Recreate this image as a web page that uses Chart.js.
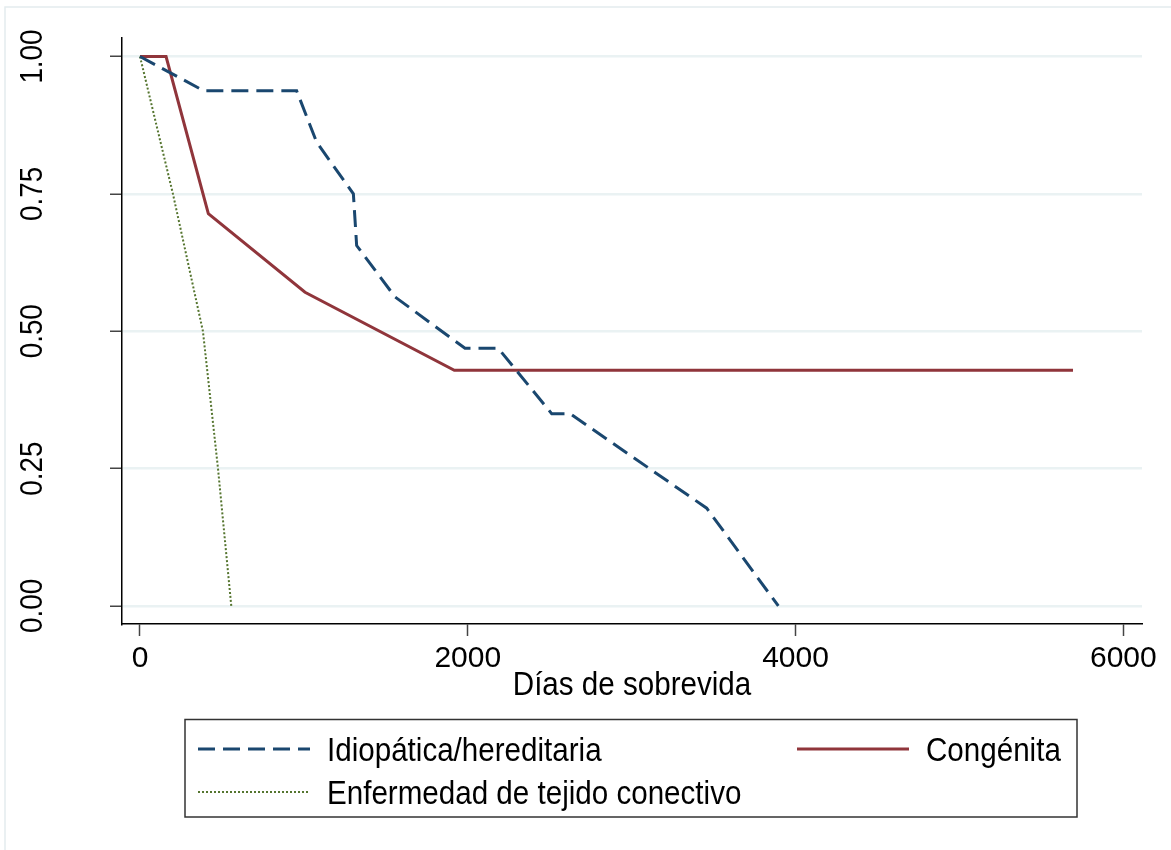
<!DOCTYPE html>
<html>
<head>
    <title>Supervivencia</title>
    <style>
        body {
            margin: 0;
            padding: 0;
            background-color: #ffffff;
        }
        #chart {
            display: block;
        }
    </style>
</head>
<body>
<canvas id="chart" width="1171" height="850"></canvas>
<script src="https://cdn.jsdelivr.net/npm/chart.js"></script>
<script>
    // Idiopática/hereditaria
    const idioDays = [0, 390, 956, 1078, 1302, 1322, 1556, 1983, 2186, 2512, 2624, 3458, 3895];
    const idioSurv = [1, 0.9375, 0.9375, 0.844, 0.75, 0.656, 0.5625, 0.469, 0.469, 0.35, 0.35, 0.178, 0];

    // Congénita
    const congDays = [0, 159, 417, 1007, 1918, 5693];
    const congSurv = [1, 1, 0.714, 0.571, 0.429, 0.429];

    // Enfermedad de tejido conectivo
    const tejDays = [0, 201, 384, 476, 557];
    const tejSurv = [1, 0.75, 0.5, 0.25, 0];

    const seriesNames = ['Idiopática/hereditaria', 'Congénita', 'Enfermedad de tejido conectivo'];
    const xTicks = [0, 2000, 4000, 6000];
    const yTicks = [0, 0.25, 0.5, 0.75, 1];
    const yTickLabels = ['0.00', '0.25', '0.50', '0.75', '1.00'];
    const xTitle = 'Días de sobrevida';

    const FONT = '"Liberation Sans", Arial, Helvetica, sans-serif';

    function toPoints(xs, ys) {
        return xs.map((x, i) => ({ x: x, y: ys[i] }));
    }

    // Stata-like text is a bit narrow, so squeeze it sideways
    function squeezedText(ctx, text, x, y, size, align, squeeze, angle) {
        ctx.save();
        ctx.translate(x, y);
        if (angle) ctx.rotate(angle);
        ctx.scale(squeeze, 1);
        ctx.font = size + 'px ' + FONT;
        ctx.fillStyle = '#000000';
        ctx.textAlign = align;
        ctx.textBaseline = 'alphabetic';
        ctx.fillText(text, 0, 0);
        ctx.restore();
    }

    const extras = {
        id: 'extras',
        beforeDraw(chart) {
            const ctx = chart.ctx;
            ctx.save();
            ctx.fillStyle = '#ffffff';
            ctx.fillRect(0, 0, chart.width, chart.height);
            // faint outer frame
            ctx.strokeStyle = '#e4ecee';
            ctx.lineWidth = 1.5;
            ctx.beginPath();
            ctx.moveTo(5, chart.height);
            ctx.lineTo(5, 7);
            ctx.lineTo(chart.width, 7);
            ctx.stroke();
            ctx.restore();
        },
        afterDraw(chart) {
            const ctx = chart.ctx;
            const yScale = chart.scales.y;
            const area = chart.chartArea;

            // y tick labels, rotated
            yScale.ticks.forEach((t, i) => {
                const py = yScale.getPixelForValue(t.value);
                squeezedText(ctx, yTickLabels[i], 42, py, 32, 'center', 0.87, -Math.PI / 2);
            });

            // x axis title
            squeezedText(ctx, xTitle, (area.left + area.right) / 2, 695, 34, 'center', 0.87, 0);

            // legend box
            const box = { left: 185, top: 719.5, right: 1077, bottom: 817 };
            ctx.save();
            ctx.strokeStyle = '#333333';
            ctx.lineWidth = 1.5;
            ctx.strokeRect(box.left, box.top, box.right - box.left, box.bottom - box.top);
            ctx.restore();

            const slots = [
                { x: 198, y: 749 },
                { x: 797, y: 749 },
                { x: 198, y: 792 }
            ];
            chart.data.datasets.forEach((ds, i) => {
                const s = slots[i];
                ctx.save();
                ctx.strokeStyle = ds.borderColor;
                ctx.lineWidth = ds.borderWidth;
                ctx.setLineDash(ds.borderDash || []);
                ctx.beginPath();
                ctx.moveTo(s.x, s.y);
                ctx.lineTo(s.x + 112, s.y);
                ctx.stroke();
                ctx.restore();
                squeezedText(ctx, ds.label, s.x + 129, s.y + 12, 34, 'left', 0.87, 0);
            });
        }
    };

    const ctx = document.getElementById('chart').getContext('2d');

    const chart = new Chart(ctx, {
        type: 'line',
        data: {
            datasets: [{
                label: seriesNames[0],
                data: toPoints(idioDays, idioSurv),
                borderColor: '#1a476f',
                borderWidth: 3,
                borderDash: [17, 8],
                pointRadius: 0,
                tension: 0,
                fill: false
            }, {
                label: seriesNames[1],
                data: toPoints(congDays, congSurv),
                borderColor: '#90353b',
                borderWidth: 3,
                pointRadius: 0,
                tension: 0,
                fill: false
            }, {
                label: seriesNames[2],
                data: toPoints(tejDays, tejSurv),
                borderColor: '#55752f',
                borderWidth: 2,
                borderDash: [2, 2],
                pointRadius: 0,
                tension: 0,
                fill: false
            }]
        },
        options: {
            responsive: false,
            animation: false,
            events: [],
            layout: {
                padding: { left: 0, top: 38, right: 29, bottom: 166 }
            },
            scales: {
                x: {
                    type: 'linear',
                    min: -109.8,
                    max: 6113.9,
                    afterBuildTicks: (scale) => {
                        scale.ticks = xTicks.map(v => ({ value: v }));
                    },
                    afterFit: (scale) => {
                        scale.height = 60;
                    },
                    ticks: {
                        autoSkip: false,
                        maxRotation: 0,
                        padding: 5,
                        color: '#000000',
                        font: { family: FONT, size: 30 },
                        callback: (v) => String(v)
                    },
                    grid: {
                        drawOnChartArea: false,
                        drawTicks: true,
                        tickLength: 12,
                        tickColor: '#444444',
                        tickWidth: 1.5
                    },
                    border: {
                        display: true,
                        color: '#000000',
                        width: 1.5
                    }
                },
                y: {
                    type: 'linear',
                    min: -0.0328,
                    max: 1.0337,
                    afterBuildTicks: (scale) => {
                        scale.ticks = yTicks.map(v => ({ value: v }));
                    },
                    afterFit: (scale) => {
                        scale.width = 122;
                    },
                    ticks: {
                        display: false
                    },
                    grid: {
                        color: '#eaf2f3',
                        lineWidth: 2.5,
                        drawTicks: true,
                        tickLength: 12,
                        tickColor: '#444444',
                        tickWidth: 1.5
                    },
                    border: {
                        display: true,
                        color: '#000000',
                        width: 1.5
                    }
                }
            },
            plugins: {
                legend: { display: false },
                tooltip: { enabled: false }
            }
        },
        plugins: [extras]
    });
</script>
</body>
</html>
